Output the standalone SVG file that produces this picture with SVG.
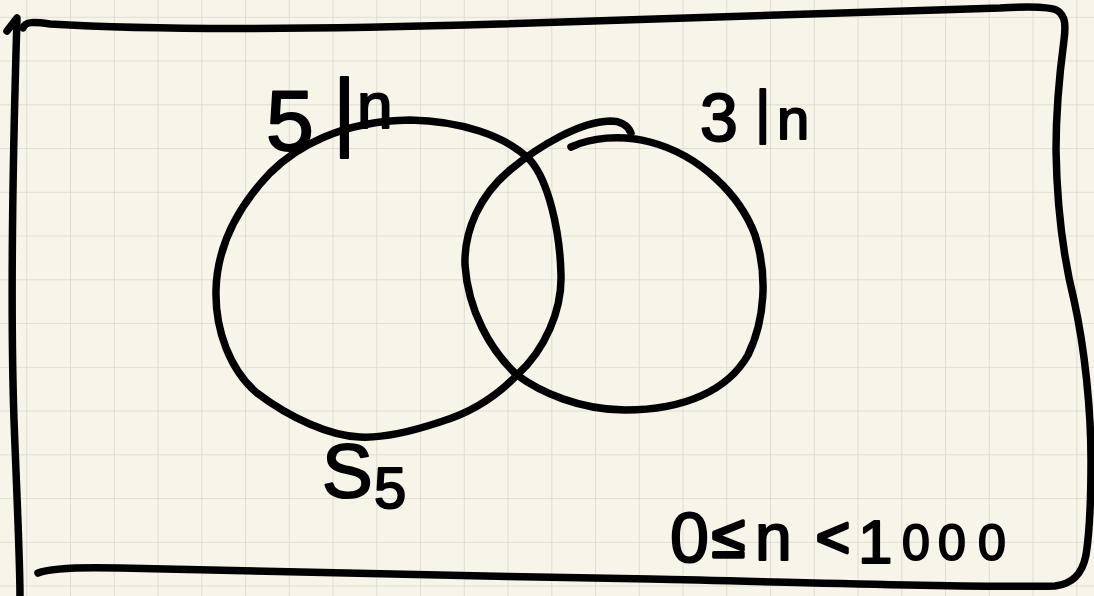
<svg xmlns="http://www.w3.org/2000/svg" width="1094" height="596" viewBox="0 0 1094 596">
  <defs>
    <pattern id="grid" patternUnits="userSpaceOnUse" x="26.3" y="16.8" width="43.75" height="43.75">
      <path d="M0,0 H43.75 M0,0 V43.75" fill="none" stroke="#d9d8cc" stroke-width="1.6"/>
    </pattern>
    <style>
      .ink { fill: none; stroke: #000; stroke-width: 7.5; stroke-linecap: round; stroke-linejoin: round; }
      .hw { font-family: "Liberation Sans", Arial, sans-serif; fill: #000; stroke: #000; stroke-width: 2; stroke-linejoin: round; }
      .sym { stroke-width: 3.5; }
    </style>
  </defs>
  <rect width="1094" height="596" fill="#f7f5e9"/>
  <rect width="1094" height="596" fill="url(#grid)"/>

  <g id="frame">
    <path class="ink" d="M7,31 L17,18 C13,150 10,300 14,420 C17,500 20,560 20,598"/>
    <path class="ink" d="M23,28 C25,21 35,22 50,24 C150,30 300,30 500,24 C700,18 900,10 1000,8 C1035,6 1052,7 1058,11 C1065,16 1066,24 1064,40 C1060,70 1056,110 1056,150 C1057,210 1064,260 1074,300 C1085,350 1091,410 1091,460 C1091,500 1090,530 1086,555 C1082,575 1072,584 1055,586 C950,588 800,582 650,579 C450,576 200,570 120,568 C80,567 50,568 38,573"/>
  </g>

  <g id="set-5">
    <path class="ink" d="M410,120 C460,121 505,135 530,160 C548,180 560,230 561,275 C562,310 545,350 517,375 C495,398 470,413 440,422 C410,432 380,438 360,437 C330,436 290,418 257,393 C230,370 215,330 216,290 C217,250 235,210 270,173 C295,148 340,121 410,120 Z"/>
    <text class="hw"><tspan x="266" y="150" font-size="86">5</tspan><tspan x="333" y="140" font-size="88">|</tspan><tspan x="357" y="128" font-size="64">n</tspan></text>
  </g>

  <g id="set-3">
    <path class="ink" d="M571,147 C590,138 620,134 650,142 C700,155 740,195 755,235 C768,275 765,320 748,355 C728,390 685,410 625,410 C580,410 540,392 517,375 C490,350 468,310 465,265 C464,230 480,195 510,170 C540,145 580,122 610,121 C620,121 628,125 631,133"/>
    <text class="hw"><tspan x="700" y="141" font-size="68">3</tspan><tspan x="755" y="132" font-size="60">|</tspan><tspan x="777" y="139" font-size="58">n</tspan></text>
  </g>

  <g id="label-s5">
    <text class="hw"><tspan x="322" y="497" font-size="76">S</tspan><tspan x="374" y="508" font-size="58">5</tspan></text>
  </g>

  <g id="label-range">
    <text class="hw"><tspan x="670" y="562" font-size="70">0</tspan><tspan class="sym" x="712" y="557" font-size="60">≤</tspan><tspan x="755" y="560" font-size="66">n</tspan><tspan class="sym" x="816" y="557" font-size="58">&lt;</tspan><tspan x="858" y="563" font-size="62">1</tspan><tspan x="902" y="560" font-size="50">0</tspan><tspan x="938" y="560" font-size="50">0</tspan><tspan x="978" y="560" font-size="50">0</tspan></text>
  </g>
</svg>
